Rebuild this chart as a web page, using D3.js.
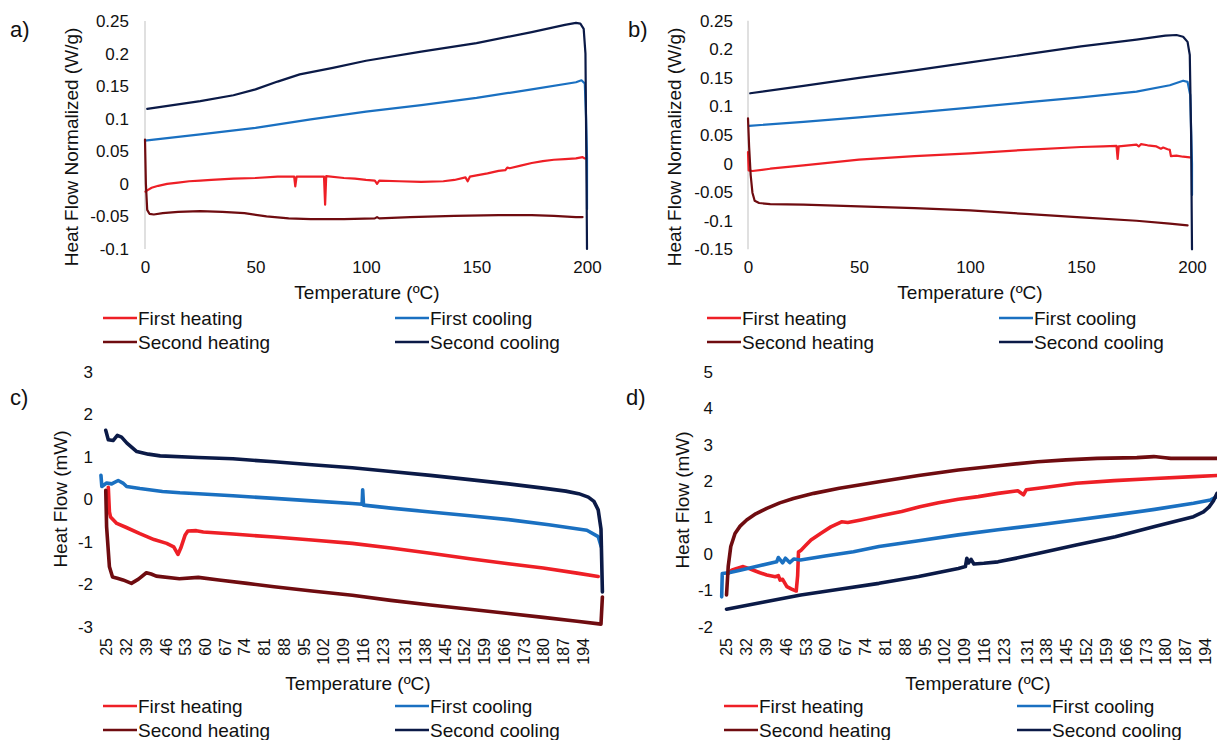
<!DOCTYPE html>
<html>
<head>
<meta charset="utf-8">
<script src="https://cdn.jsdelivr.net/npm/d3@7"></script>
<style>
  html, body { margin: 0; padding: 0; background: #ffffff; }
  svg { display: block; font-family: "Liberation Sans", Arial, Helvetica, sans-serif; }
</style>
</head>
<body>
<svg id="chart" width="1217" height="740"></svg>
<script>
// ---- Series names ----
const seriesNames = ["First heating", "First cooling", "Second heating", "Second cooling"];

// ---- Panel a: normalized heat flow (W/g) vs temperature (°C) ----
const aTicksX = [0, 50, 100, 150, 200];
const aTicksY = [0.25, 0.2, 0.15, 0.1, 0.05, 0, -0.05, -0.1];
const aFirstHeating = [[0.2,-0.012],[1,-0.010],[3,-0.006],[6,-0.003],[10,0.000],[15,0.002],[20,0.004],[25,0.005],[30,0.006],[40,0.008],[50,0.009],[60,0.011],[67.5,0.011],[68,-0.004],[68.6,0.011],[75,0.011],[81,0.011],[81.5,-0.032],[82,0.012],[90,0.009],[95,0.008],[100,0.006],[104,0.005],[105,0.000],[106,0.005],[115,0.004],[125,0.003],[135,0.004],[140,0.006],[145,0.010],[146,0.004],[147,0.011],[150,0.013],[155,0.016],[160,0.020],[163,0.021],[164,0.025],[165,0.024],[170,0.028],[175,0.032],[180,0.035],[185,0.037],[190,0.038],[195,0.039],[198,0.041],[199,0.039]];
const aFirstCooling = [[0,0.0665],[25,0.076],[50,0.086],[75,0.099],[100,0.111],[125,0.121],[150,0.132],[175,0.145],[195,0.156],[197.5,0.159],[199,0.154],[199.6,0.100],[200,0.040],[200,-0.039]];
const aSecondHeating = [[0,0.068],[0.4,0.000],[1,-0.040],[2,-0.046],[4,-0.047],[8,-0.045],[15,-0.043],[25,-0.042],[35,-0.043],[45,-0.045],[55,-0.050],[65,-0.053],[75,-0.054],[90,-0.054],[104,-0.053],[105,-0.051],[106,-0.053],[120,-0.051],[140,-0.049],[160,-0.048],[175,-0.048],[185,-0.049],[195,-0.051],[198,-0.051]];
const aSecondCooling = [[1,0.115],[25,0.127],[40,0.136],[50,0.145],[60,0.157],[70,0.168],[85,0.178],[100,0.189],[125,0.203],[150,0.216],[175,0.233],[190,0.244],[195,0.247],[197,0.246],[198.5,0.238],[199.3,0.200],[199.8,0.000],[200,-0.100]];

// ---- Panel b: normalized heat flow (W/g) vs temperature (°C) ----
const bTicksX = [0, 50, 100, 150, 200];
const bTicksY = [0.25, 0.2, 0.15, 0.1, 0.05, 0, -0.05, -0.1, -0.15];
const bFirstHeating = [[0,0.020],[0.3,-0.012],[2,-0.013],[10,-0.009],[25,-0.003],[50,0.007],[75,0.013],[100,0.018],[125,0.024],[150,0.029],[160,0.030],[166,0.031],[166.5,0.008],[167,0.030],[175,0.033],[176,0.030],[177,0.034],[180,0.032],[184,0.030],[186,0.026],[187,0.028],[189,0.025],[190,0.024],[190.5,0.013],[193,0.014],[196,0.012],[199,0.011]];
const bFirstCooling = [[0.5,0.066],[25,0.073],[50,0.081],[75,0.089],[100,0.098],[125,0.107],[150,0.116],[175,0.126],[190,0.137],[196,0.145],[198,0.143],[199.2,0.120],[200,0.000],[200,-0.055]];
const bSecondHeating = [[0,0.079],[0.5,0.030],[1.2,-0.020],[2,-0.051],[3,-0.065],[5,-0.069],[10,-0.071],[25,-0.072],[50,-0.075],[75,-0.078],[100,-0.082],[125,-0.088],[150,-0.094],[175,-0.100],[190,-0.105],[198,-0.108]];
const bSecondCooling = [[1,0.123],[25,0.136],[50,0.150],[75,0.163],[100,0.177],[125,0.191],[150,0.205],[175,0.217],[188,0.224],[193,0.225],[196,0.222],[198,0.213],[199,0.190],[199.6,0.050],[200,-0.150]];

// ---- Panel c: heat flow (mW) vs temperature (°C) ----
const cTicksX = [25, 32, 39, 46, 53, 60, 67, 74, 81, 88, 95, 102, 109, 116, 123, 131, 138, 145, 152, 159, 166, 173, 180, 187, 194];
const cTicksY = [3, 2, 1, 0, -1, -2, -3];
const cFirstHeating = [[25.8,0.28],[26.2,-0.30],[26.6,-0.42],[28.8,-0.57],[32,-0.66],[37,-0.81],[42,-0.95],[46.5,-1.04],[49,-1.12],[50.5,-1.30],[51.5,-1.15],[53,-0.85],[54,-0.75],[57,-0.74],[59.5,-0.77],[70,-0.82],[84.6,-0.89],[98,-0.96],[112.3,-1.04],[126,-1.15],[140,-1.27],[154,-1.40],[167.7,-1.52],[180,-1.62],[192,-1.74],[199.5,-1.82]];
const cFirstCooling = [[23.2,0.56],[23.5,0.30],[25.2,0.38],[27,0.36],[29.3,0.44],[31,0.38],[32.3,0.30],[37,0.25],[45,0.18],[51.2,0.15],[57.7,0.13],[70,0.08],[84.6,0.02],[98,-0.04],[112.3,-0.10],[115.8,-0.12],[116,0.22],[116.3,-0.14],[126,-0.21],[140,-0.30],[154,-0.39],[167.7,-0.48],[182,-0.60],[195.5,-0.73],[199.5,-0.88],[200.6,-1.12]];
const cSecondHeating = [[24.9,0.21],[25.2,-0.65],[26.2,-1.59],[27.3,-1.83],[29,-1.86],[31,-1.90],[34,-1.98],[36.5,-1.88],[39.3,-1.73],[41,-1.76],[42.8,-1.81],[51,-1.87],[57.7,-1.84],[65,-1.90],[75,-1.98],[84.6,-2.06],[98,-2.16],[112.3,-2.26],[126,-2.38],[140,-2.49],[154,-2.59],[167.7,-2.69],[180,-2.78],[192,-2.87],[200.5,-2.94],[201,-2.30]];
const cSecondCooling = [[24.9,1.62],[25.8,1.40],[27.5,1.38],[29,1.50],[30.5,1.46],[32.4,1.32],[35.9,1.12],[40,1.06],[44.2,1.02],[57.7,0.98],[70,0.95],[84.6,0.88],[98,0.81],[112.3,0.74],[126,0.65],[140,0.56],[154,0.46],[167.7,0.36],[180,0.26],[188,0.19],[192.6,0.13],[196,0.05],[198,-0.05],[199.5,-0.25],[200.5,-0.70],[201,-2.18]];

// ---- Panel d: heat flow (mW) vs temperature (°C) ----
const dTicksX = [25, 32, 39, 46, 53, 60, 67, 74, 81, 88, 95, 102, 109, 116, 123, 131, 138, 145, 152, 159, 166, 173, 180, 187, 194];
const dTicksY = [5, 4, 3, 2, 1, 0, -1, -2];
const dFirstHeating = [[25.8,-0.54],[27,-0.45],[28.8,-0.40],[31.1,-0.35],[33,-0.40],[34.7,-0.45],[37,-0.52],[39.4,-0.58],[42.4,-0.63],[43.5,-0.60],[44.1,-0.72],[45,-0.70],[46.5,-0.90],[48,-0.96],[48.8,-0.99],[49.8,-1.02],[50.3,-0.60],[50.6,0.05],[51.5,0.10],[53,0.22],[55,0.38],[58.4,0.56],[62,0.74],[65.8,0.88],[68,0.86],[72.6,0.93],[80,1.05],[87,1.16],[93.4,1.29],[100,1.40],[107,1.50],[114,1.57],[121,1.66],[128,1.73],[130,1.62],[131,1.76],[138,1.83],[148.6,1.94],[162,2.01],[176.3,2.07],[190,2.12],[201,2.16]];
const dFirstCooling = [[23.5,-1.18],[23.7,-0.54],[26,-0.52],[30,-0.45],[36,-0.34],[42.9,-0.22],[43.5,-0.10],[45,-0.25],[46,-0.12],[47.5,-0.24],[49,-0.14],[51.3,-0.17],[60,-0.06],[70,0.06],[79,0.20],[93,0.36],[107,0.52],[121,0.66],[135,0.79],[148.6,0.93],[162.4,1.07],[176.3,1.22],[190,1.39],[196,1.48],[198.3,1.57]];
const dSecondHeating = [[25.2,-1.13],[25.8,-0.35],[26.7,0.20],[28.2,0.56],[30,0.76],[32.3,0.93],[35.5,1.10],[39.4,1.25],[44,1.40],[48.8,1.52],[56,1.66],[65,1.80],[79,1.98],[93,2.15],[107,2.30],[121,2.42],[135,2.53],[145,2.58],[156,2.62],[170,2.64],[176,2.67],[180,2.64],[182,2.62],[190,2.62],[201,2.62]];
const dSecondCooling = [[25.2,-1.52],[38,-1.33],[51.4,-1.13],[65,-0.97],[79,-0.81],[93,-0.62],[107,-0.40],[109.5,-0.35],[110,-0.12],[110.6,-0.25],[111.5,-0.15],[112.5,-0.28],[116,-0.26],[121,-0.22],[128,-0.11],[135,0.01],[148.6,0.24],[162.4,0.47],[176.3,0.75],[184,0.90],[190,1.02],[193.5,1.15],[195.5,1.29],[197,1.45],[198.3,1.66]];

// ---- Styling ----
const colors = {
  "First heating": "#ee1f26",
  "First cooling": "#1a70c1",
  "Second heating": "#6f0c10",
  "Second cooling": "#0b1a47"
};

const svg = d3.select("#chart");

function drawPanel(p) {
  const g = svg.append("g");
  const x = d3.scaleLinear().domain(p.xDomain).range(p.xRange);
  const y = d3.scaleLinear().domain(p.yDomain).range(p.yRange);

  // vertical axis line at x = 0 (only in the normalized panels)
  if (p.axisLine) {
    g.append("line")
      .attr("x1", x(0)).attr("x2", x(0))
      .attr("y1", y(p.yDomain[1])).attr("y2", y(p.yDomain[0]))
      .attr("stroke", "#d0d0d0").attr("stroke-width", 1.3);
  }

  // y axis labels
  const yAxis = g.append("g")
    .attr("transform", `translate(${p.yLabelX},0)`)
    .call(d3.axisLeft(y).tickValues(p.yTicks).tickSize(0).tickPadding(0).tickFormat(d => String(d)));
  yAxis.select(".domain").remove();
  yAxis.selectAll("text").attr("font-size", 17).attr("fill", "#111").style("font-family", "inherit");

  // x axis labels
  const xAxis = g.append("g")
    .attr("transform", `translate(0,${p.xLabelY})`)
    .call(d3.axisBottom(x).tickValues(p.xTicks).tickSize(0).tickPadding(0).tickFormat(d => String(d)));
  xAxis.select(".domain").remove();
  const xt = xAxis.selectAll("text").attr("fill", "#111").style("font-family", "inherit");
  if (p.rotated) {
    xt.attr("font-size", 16)
      .attr("transform", "rotate(-90)")
      .attr("text-anchor", "end")
      .attr("x", 0).attr("y", 0).attr("dy", "0.36em");
  } else {
    xt.attr("font-size", 17).attr("dy", "0.71em");
  }

  // axis titles
  g.append("text")
    .attr("transform", `translate(${p.yTitle[0]},${p.yTitle[1]}) rotate(-90)`)
    .attr("text-anchor", "middle").attr("dominant-baseline", "central")
    .attr("font-size", 19).attr("fill", "#111")
    .text(p.yTitleText);
  g.append("text")
    .attr("x", p.xTitle[0]).attr("y", p.xTitle[1])
    .attr("text-anchor", "middle").attr("dominant-baseline", "central")
    .attr("font-size", 19).attr("fill", "#111")
    .text("Temperature (ºC)");

  // panel letter
  g.append("text")
    .attr("x", p.letterPos[0]).attr("y", p.letterPos[1])
    .attr("dominant-baseline", "central")
    .attr("font-size", 22).attr("fill", "#111")
    .text(p.letter);

  // curves
  const line = d3.line().x(d => x(d[0])).y(d => y(d[1]));
  p.series.forEach((s, i) => {
    g.append("path")
      .datum(s)
      .attr("fill", "none")
      .attr("stroke", colors[seriesNames[i]])
      .attr("stroke-width", p.lineWidth)
      .attr("stroke-linejoin", "round")
      .attr("stroke-linecap", "round")
      .attr("d", line);
  });

  // legend: two columns, two rows
  const legendOrder = ["First heating", "First cooling", "Second heating", "Second cooling"];
  legendOrder.forEach((name, i) => {
    const col = i % 2, row = Math.floor(i / 2);
    const lx = p.legend.cols[col], ly = p.legend.rows[row];
    const item = g.append("g").attr("transform", `translate(${lx},${ly})`);
    item.append("line")
      .attr("x1", 0).attr("x2", 34).attr("y1", 0).attr("y2", 0)
      .attr("stroke", colors[name]).attr("stroke-width", 2.6);
    item.append("text")
      .attr("x", 35).attr("y", 0)
      .attr("dominant-baseline", "central")
      .attr("font-size", 19).attr("fill", "#111")
      .text(name);
  });
}

drawPanel({
  letter: "a)", letterPos: [10, 29],
  xDomain: [0, 200], xRange: [145, 587],
  yDomain: [-0.1, 0.25], yRange: [249, 21],
  xTicks: aTicksX, yTicks: aTicksY,
  yLabelX: 129, xLabelY: 261, rotated: false, axisLine: true,
  yTitleText: "Heat Flow Normalized (W/g)", yTitle: [71, 147], xTitle: [367, 292],
  series: [aFirstHeating, aFirstCooling, aSecondHeating, aSecondCooling],
  lineWidth: 2.2,
  legend: { cols: [103, 395], rows: [318, 342] }
});

drawPanel({
  letter: "b)", letterPos: [628, 29],
  xDomain: [0, 200], xRange: [748, 1192],
  yDomain: [-0.15, 0.25], yRange: [249.3, 20.7],
  xTicks: bTicksX, yTicks: bTicksY,
  yLabelX: 733, xLabelY: 261, rotated: false, axisLine: true,
  yTitleText: "Heat Flow Normalized (W/g)", yTitle: [674, 147], xTitle: [970, 292],
  series: [bFirstHeating, bFirstCooling, bSecondHeating, bSecondCooling],
  lineWidth: 2.2,
  legend: { cols: [707, 999], rows: [318, 342] }
});

drawPanel({
  letter: "c)", letterPos: [10, 397],
  xDomain: [23, 201], xRange: [100.4, 602.4],
  yDomain: [-3, 3], yRange: [626.7, 371.7],
  xTicks: cTicksX, yTicks: cTicksY,
  yLabelX: 93, xLabelY: 638, rotated: true, axisLine: false,
  yTitleText: "Heat Flow (mW)", yTitle: [60, 499], xTitle: [358, 683],
  series: [cFirstHeating, cFirstCooling, cSecondHeating, cSecondCooling],
  lineWidth: 3.6,
  legend: { cols: [103, 395], rows: [706, 730] }
});

drawPanel({
  letter: "d)", letterPos: [626, 397],
  xDomain: [23.5, 201], xRange: [721.7, 1224.7],
  yDomain: [-2, 5], yRange: [626.7, 371.7],
  xTicks: dTicksX, yTicks: dTicksY,
  yLabelX: 713, xLabelY: 638, rotated: true, axisLine: false,
  yTitleText: "Heat Flow (mW)", yTitle: [682, 500], xTitle: [978, 683],
  series: [dFirstHeating, dFirstCooling, dSecondHeating, dSecondCooling],
  lineWidth: 3.6,
  legend: { cols: [724, 1017], rows: [706, 730] }
});
</script>
</body>
</html>
